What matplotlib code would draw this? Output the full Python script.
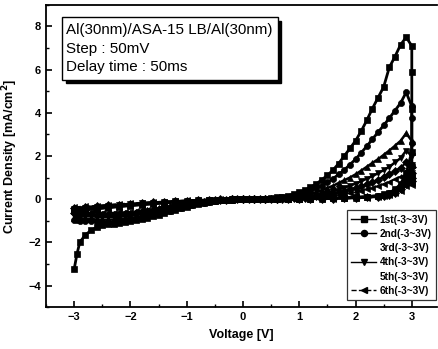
import matplotlib
matplotlib.use("Agg")
import matplotlib.pyplot as plt
from matplotlib.lines import Line2D
from matplotlib.patches import Rectangle

plt.rcParams['font.family'] = ['Liberation Sans', 'DejaVu Sans']

# ---- voltage grids (V) ----
v_neg_fwd = [-3.0, -2.95, -2.9, -2.8, -2.7, -2.6, -2.5, -2.4, -2.3, -2.2, -2.1, -2.0,
             -1.9, -1.8, -1.7, -1.6, -1.5, -1.4, -1.3, -1.2, -1.1, -1.0, -0.9, -0.8,
             -0.7, -0.6, -0.5, -0.4, -0.3, -0.2, -0.1]
v_pos_up = [0.0, 0.1, 0.2, 0.3, 0.4, 0.5, 0.6, 0.7, 0.8, 0.9, 1.0, 1.1, 1.2, 1.3, 1.4,
            1.5, 1.6, 1.7, 1.8, 1.9, 2.0, 2.1, 2.2, 2.3, 2.4, 2.5, 2.6, 2.7, 2.8, 2.9]
v_drop = [3.0, 3.0, 3.0, 3.0]
v_pos_down = [2.9, 2.8, 2.7, 2.6, 2.5, 2.4, 2.2, 2.0, 1.8, 1.6, 1.4, 1.2, 1.0, 0.8,
              0.6, 0.4, 0.2, 0.0]
v_neg_back = [-0.2, -0.4, -0.6, -0.8, -1.0, -1.2, -1.4, -1.6, -1.8, -2.0, -2.2, -2.4,
              -2.6, -2.8, -3.0]

labels = ["1st(-3~3V)", "2nd(-3~3V)", "3rd(-3~3V)", "4th(-3~3V)", "5th(-3~3V)", "6th(-3~3V)"]

# ---- current density (mA/cm^2) per run, per segment ----
j_neg_fwd = [
    [-3.25, -2.55, -2.0, -1.65, -1.45, -1.3, -1.18, -1.15, -1.13, -1.1, -1.07, -1.03, -0.98, -0.92, -0.86, -0.79,
     -0.72, -0.65, -0.57, -0.49, -0.42, -0.35, -0.28, -0.22, -0.17, -0.13, -0.09, -0.06, -0.04, -0.02, -0.01],
    [-0.95, -0.97, -0.99, -1.01, -1.03, -1.05, -1.06, -1.06, -1.05, -1.03, -1.0, -0.96, -0.91, -0.86, -0.8, -0.74,
     -0.67, -0.6, -0.53, -0.46, -0.39, -0.32, -0.26, -0.2, -0.16, -0.12, -0.08, -0.06, -0.04, -0.02, -0.01],
    [-0.85, -0.86, -0.88, -0.9, -0.92, -0.94, -0.95, -0.95, -0.94, -0.92, -0.9, -0.87, -0.83, -0.78, -0.72, -0.66,
     -0.6, -0.53, -0.46, -0.4, -0.34, -0.28, -0.23, -0.18, -0.14, -0.1, -0.07, -0.05, -0.03, -0.02, -0.01],
    [-0.75, -0.76, -0.77, -0.78, -0.8, -0.81, -0.82, -0.82, -0.82, -0.81, -0.79, -0.76, -0.73, -0.69, -0.64, -0.59,
     -0.53, -0.47, -0.41, -0.36, -0.3, -0.25, -0.2, -0.16, -0.12, -0.09, -0.06, -0.04, -0.03, -0.02, -0.01],
    [-0.65, -0.66, -0.67, -0.68, -0.7, -0.71, -0.72, -0.72, -0.72, -0.71, -0.69, -0.67, -0.64, -0.6, -0.56, -0.52,
     -0.47, -0.42, -0.37, -0.32, -0.27, -0.22, -0.18, -0.14, -0.11, -0.08, -0.06, -0.04, -0.02, -0.01, -0.01],
    [-0.55, -0.56, -0.57, -0.58, -0.6, -0.61, -0.62, -0.62, -0.62, -0.61, -0.6, -0.58, -0.55, -0.52, -0.48, -0.44,
     -0.4, -0.36, -0.32, -0.28, -0.24, -0.2, -0.16, -0.13, -0.1, -0.07, -0.05, -0.03, -0.02, -0.01, 0.0],
]
j_pos_up = [
    [0, 0, 0.01, 0.02, 0.03, 0.05, 0.08, 0.12, 0.17, 0.24, 0.32, 0.42, 0.55, 0.7, 0.9,
     1.1, 1.35, 1.65, 2.0, 2.35, 2.7, 3.15, 3.65, 4.2, 4.7, 5.2, 6.1, 6.6, 7.15, 7.5],
    [0, 0, 0.01, 0.01, 0.02, 0.03, 0.05, 0.08, 0.11, 0.15, 0.2, 0.28, 0.38, 0.5, 0.62,
     0.78, 0.95, 1.15, 1.35, 1.6, 1.85, 2.15, 2.45, 2.78, 3.1, 3.42, 3.75, 4.1, 4.45, 4.95],
    [0, 0, 0, 0.01, 0.02, 0.03, 0.04, 0.06, 0.08, 0.1, 0.12, 0.18, 0.25, 0.33, 0.42,
     0.52, 0.62, 0.75, 0.88, 1.0, 1.15, 1.32, 1.5, 1.68, 1.85, 2.05, 2.25, 2.47, 2.7, 3.05],
    [0, 0, 0, 0.01, 0.01, 0.02, 0.03, 0.04, 0.05, 0.06, 0.08, 0.11, 0.15, 0.2, 0.25,
     0.31, 0.38, 0.45, 0.53, 0.62, 0.72, 0.83, 0.95, 1.07, 1.2, 1.35, 1.5, 1.7, 1.9, 2.25],
    [0, 0, 0, 0, 0.01, 0.01, 0.02, 0.03, 0.04, 0.04, 0.05, 0.07, 0.1, 0.13, 0.17,
     0.22, 0.27, 0.32, 0.38, 0.45, 0.52, 0.6, 0.7, 0.8, 0.9, 1.02, 1.15, 1.3, 1.45, 1.7],
    [0, 0, 0, 0, 0, 0.01, 0.01, 0.02, 0.02, 0.03, 0.03, 0.04, 0.06, 0.08, 0.1,
     0.13, 0.16, 0.2, 0.24, 0.29, 0.34, 0.4, 0.46, 0.53, 0.6, 0.7, 0.8, 0.92, 1.05, 1.3],
]
j_drop = [
    [7.1, 5.9, 4.2, 2.2],
    [4.3, 3.75, 2.6, 1.6],
    [2.7, 2.2, 1.6, 1.2],
    [2.0, 1.6, 1.2, 1.0],
    [1.5, 1.2, 1.0, 0.85],
    [1.1, 0.9, 0.75, 0.65],
]
j_pos_down = [
    [1.2, 0.7, 0.45, 0.3, 0.22, 0.17, 0.12, 0.09, 0.07, 0.05, 0.04, 0.03, 0.02, 0.02, 0.01, 0.01, 0.0, 0.0],
    [1.0, 0.6, 0.4, 0.27, 0.2, 0.15, 0.11, 0.08, 0.06, 0.05, 0.04, 0.03, 0.02, 0.01, 0.01, 0.0, 0.0, 0.0],
    [0.9, 0.55, 0.35, 0.24, 0.18, 0.13, 0.1, 0.07, 0.05, 0.04, 0.03, 0.02, 0.02, 0.01, 0.01, 0.0, 0.0, 0.0],
    [0.8, 0.5, 0.32, 0.22, 0.16, 0.12, 0.09, 0.06, 0.05, 0.04, 0.03, 0.02, 0.01, 0.01, 0.0, 0.0, 0.0, 0.0],
    [0.7, 0.45, 0.3, 0.2, 0.15, 0.11, 0.08, 0.06, 0.04, 0.03, 0.02, 0.02, 0.01, 0.01, 0.0, 0.0, 0.0, 0.0],
    [0.6, 0.4, 0.28, 0.19, 0.14, 0.1, 0.07, 0.05, 0.04, 0.03, 0.02, 0.01, 0.01, 0.0, 0.0, 0.0, 0.0, 0.0],
]
j_neg_back = [
    [-0.01, -0.03, -0.05, -0.08, -0.11, -0.14, -0.18, -0.22, -0.26, -0.3, -0.35, -0.4, -0.45, -0.5, -0.55],
    [-0.01, -0.02, -0.04, -0.07, -0.1, -0.13, -0.16, -0.2, -0.24, -0.28, -0.32, -0.37, -0.42, -0.47, -0.52],
    [-0.01, -0.02, -0.04, -0.06, -0.09, -0.12, -0.15, -0.18, -0.22, -0.26, -0.3, -0.34, -0.39, -0.44, -0.48],
    [0.0, -0.02, -0.03, -0.05, -0.08, -0.1, -0.13, -0.16, -0.2, -0.23, -0.27, -0.31, -0.35, -0.4, -0.44],
    [0.0, -0.01, -0.03, -0.05, -0.07, -0.09, -0.12, -0.15, -0.18, -0.21, -0.25, -0.28, -0.32, -0.36, -0.4],
    [0.0, -0.01, -0.02, -0.04, -0.06, -0.08, -0.11, -0.13, -0.16, -0.19, -0.22, -0.26, -0.3, -0.33, -0.37],
]

markers = ['s', 'o', '^', 'v', 'D', '<']
msizes = [4.8, 4.4, 4.0, 4.4, 3.6, 4.2]
lstyles = ['-', '-', '-', '-', '-', '--']
lwidths = [2.0, 2.0, 1.8, 1.8, 1.6, 1.2]

fig = plt.figure(figsize=(4.38, 3.49), dpi=100)
ax = fig.add_axes([0.105, 0.12, 0.893, 0.866])

V = v_neg_fwd + v_pos_up + v_drop + v_pos_down + v_neg_back
for i in range(6):
    J = j_neg_fwd[i] + j_pos_up[i] + j_drop[i] + j_pos_down[i] + j_neg_back[i]
    ax.plot(V, J, color='black', marker=markers[i], markersize=msizes[i],
            linestyle=lstyles[i], linewidth=lwidths[i], markeredgewidth=0.5)

ax.set_xlim(-3.5, 3.45)
ax.set_ylim(-5.0, 9.0)
ax.set_xticks([-3, -2, -1, 0, 1, 2, 3])
ax.set_xticks([-3.5, -2.5, -1.5, -0.5, 0.5, 1.5, 2.5], minor=True)
ax.set_yticks([-4, -2, 0, 2, 4, 6, 8])
ax.set_yticks([-5, -3, -1, 1, 3, 5, 7, 9], minor=True)
ax.tick_params(which='major', direction='in', length=4, width=1.2, labelsize=8)
ax.tick_params(which='minor', direction='in', length=2, width=1.0)
for lab in ax.get_xticklabels() + ax.get_yticklabels():
    lab.set_fontweight('bold')
ax.spines['right'].set_visible(False)
for s in ['left', 'bottom', 'top']:
    ax.spines[s].set_linewidth(1.3)

ax.set_xlabel("Voltage [V]", fontsize=9, fontweight='bold', labelpad=5)
ax.set_ylabel("Current Density [mA/cm$^\\mathbf{2}$]", fontsize=9, fontweight='bold', labelpad=6)

# annotation box with shadow
x0, x1, y0, y1 = 0.041, 0.593, 0.752, 0.960
ax.add_patch(Rectangle((x0 + 0.009, y0 - 0.012), x1 - x0, y1 - y0, transform=ax.transAxes,
                       facecolor='black', edgecolor='black', zorder=5))
ax.add_patch(Rectangle((x0, y0), x1 - x0, y1 - y0, transform=ax.transAxes,
                       facecolor='white', edgecolor='black', linewidth=1.0, zorder=6))
for k, t in enumerate(["Al(30nm)/ASA-15 LB/Al(30nm)", "Step : 50mV", "Delay time : 50ms"]):
    ax.text(0.052, [0.917, 0.853, 0.793][k], t, transform=ax.transAxes, fontsize=10.9,
            va='center', ha='left', zorder=7)

handles = []
for i in range(6):
    if i in (2, 4):
        handles.append(Line2D([], [], linestyle='none', marker=None))
    else:
        handles.append(Line2D([], [], color='black', marker=markers[i], markersize=msizes[i],
                              linestyle=lstyles[i], linewidth=1.0))
leg = ax.legend(handles, labels, loc='lower right', bbox_to_anchor=(0.998, 0.022),
                prop={'size': 7.3, 'weight': 'bold'}, frameon=True, fancybox=False,
                edgecolor='black', handlelength=2.4, handletextpad=0.4, borderpad=0.45,
                labelspacing=0.42, borderaxespad=0.0)
leg.get_frame().set_linewidth(0.9)

fig.savefig("out.png", dpi=100)
